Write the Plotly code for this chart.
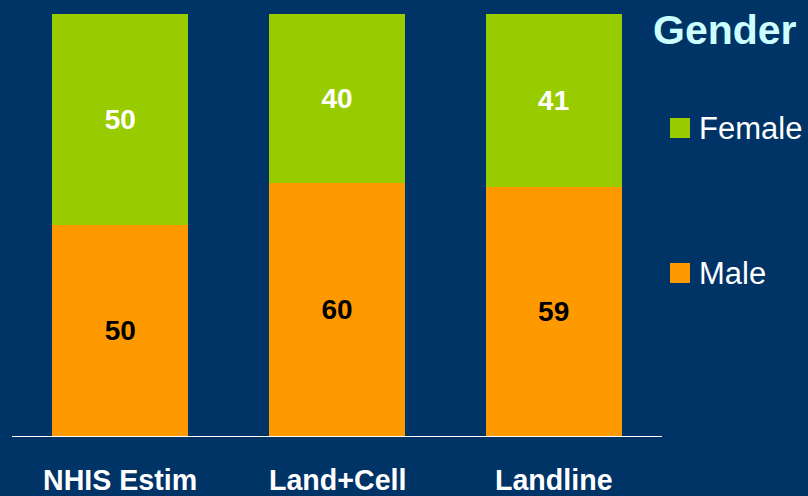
import plotly.graph_objects as go

# Survey composition by gender (%)
categories = ["NHIS Estim", "Land+Cell", "Landline"]
male = [50, 60, 59]
female = [50, 40, 41]
series_names = ["Male", "Female"]

BG = "#003366"
ORANGE = "#FF9900"
GREEN = "#99CC00"
FONT = "Liberation Sans, Arial, sans-serif"

fig = go.Figure()
fig.add_trace(go.Bar(
    x=categories, y=male, name=series_names[0], marker_color=ORANGE,
    marker_line_width=0, text=[str(v) for v in male], textposition="inside",
    insidetextanchor="middle",
    textfont=dict(family=FONT, size=28, color="black", weight="bold"),
))
fig.add_trace(go.Bar(
    x=categories, y=female, name=series_names[1], marker_color=GREEN,
    marker_line_width=0, text=[str(v) for v in female], textposition="inside",
    insidetextanchor="middle",
    textfont=dict(family=FONT, size=28, color="white", weight="bold"),
))

fig.update_layout(
    width=808, height=496,
    margin=dict(l=12, r=146, t=14, b=60),
    paper_bgcolor=BG, plot_bgcolor=BG,
    barmode="stack", bargap=0.372,
    showlegend=False,
    uniformtext=dict(mode="show", minsize=10),
    xaxis=dict(showline=True, linecolor="white", linewidth=1,
               showticklabels=False, ticks="", showgrid=False, zeroline=False),
    yaxis=dict(range=[0, 100], visible=False, showgrid=False, zeroline=False),
)

# Category labels under the baseline
for c in categories:
    fig.add_annotation(x=c, xref="x", y=0, yref="paper", yshift=-44,
                       yanchor="middle", showarrow=False, text=c,
                       font=dict(family=FONT, size=28.6, color="white", weight="bold"))

# Title
fig.add_annotation(x=725, xref="paper", y=30, yref="paper", showarrow=False,
                   text="Gender", xanchor="center", yanchor="middle",
                   font=dict(family=FONT, size=41, color="#CCFFFF", weight="bold"))

# Legend entries (Female on top, Male below)
legend_rows = [(series_names[1], GREEN, 128), (series_names[0], ORANGE, 273)]
for name, color, yc in legend_rows:
    fig.add_shape(type="rect", xref="paper", yref="paper",
                  x0=670, x1=690, y0=yc - 10, y1=yc + 10,
                  fillcolor=color, line_width=0)
    fig.add_annotation(x=697, xref="paper", y=yc, yref="paper", showarrow=False,
                       text=name, xanchor="left", yanchor="middle",
                       font=dict(family=FONT, size=31, color="white"))

# Convert pixel positions for overlay items into paper coordinates
plot_w = 808 - 12 - 146
plot_h = 496 - 14 - 60
for ann in fig.layout.annotations:
    if ann.xref == "paper" and ann.yref == "paper" and ann.x is not None and ann.x > 1:
        ann.x = (ann.x - 12) / plot_w
        ann.y = (496 - 60 - ann.y) / plot_h
for shp in fig.layout.shapes:
    shp.x0 = (shp.x0 - 12) / plot_w
    shp.x1 = (shp.x1 - 12) / plot_w
    y0, y1 = shp.y0, shp.y1
    shp.y0 = (496 - 60 - y1) / plot_h
    shp.y1 = (496 - 60 - y0) / plot_h

fig.write_html("out.html")
